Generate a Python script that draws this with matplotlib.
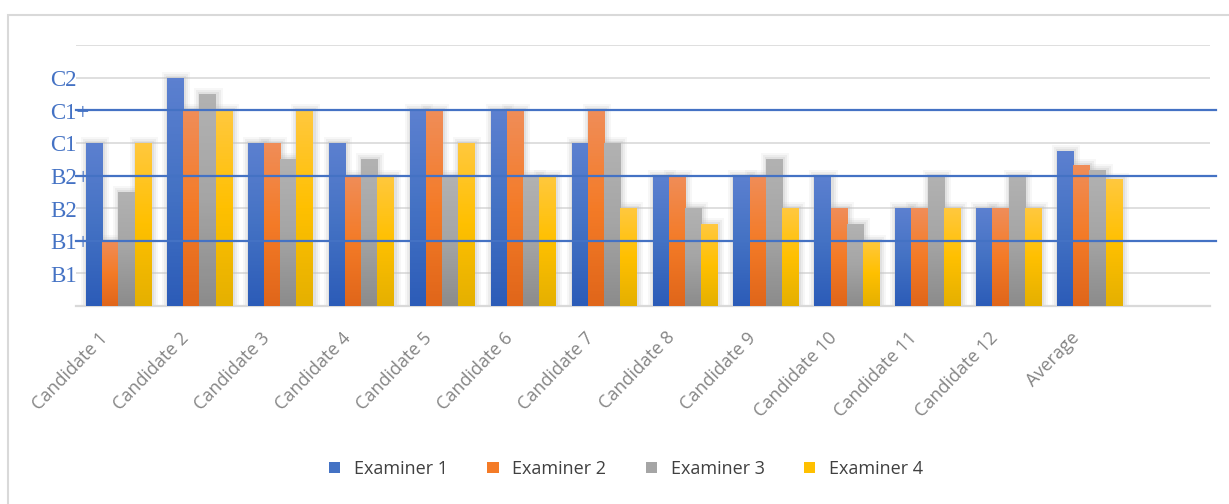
import matplotlib as mpl
import matplotlib.pyplot as plt
from matplotlib import transforms
from matplotlib.colors import LinearSegmentedColormap
from matplotlib.patches import Patch, Rectangle
import numpy as np

mpl.rcParams['font.family'] = 'Open Sans'

categories = ['Candidate 1', 'Candidate 2', 'Candidate 3', 'Candidate 4',
              'Candidate 5', 'Candidate 6', 'Candidate 7', 'Candidate 8',
              'Candidate 9', 'Candidate 10', 'Candidate 11', 'Candidate 12',
              'Average']
examiners = ['Examiner 1', 'Examiner 2', 'Examiner 3', 'Examiner 4']

# scores on the B1 .. C2 scale (B1 = 1, B1+ = 2, ... C2 = 7)
examiner1 = [5, 7, 5, 5, 6, 6, 5, 4, 4, 4, 3, 3, 4.75]
examiner2 = [2, 6, 5, 4, 6, 6, 6, 4, 4, 3, 3, 3, 4.33]
examiner3 = [3.5, 6.5, 4.5, 4.5, 4, 4, 5, 3, 4.5, 2.5, 4, 4, 4.17]
examiner4 = [5, 6, 6, 4, 5, 4, 3, 2.5, 3, 2, 3, 3, 3.88]

level_values = [1, 2, 3, 4, 5, 6, 7]
level_labels = ['B1', 'B1+', 'B2', 'B2+', 'C1', 'C1+', 'C2']
marked_levels = [2, 4, 6]

# light / base / dark stops for the gradient fills
fills = [('#5c80d0', '#4472c4', '#2c5cb8'),
         ('#f08d58', '#f47b27', '#e0661a'),
         ('#b2b2b2', '#a5a5a5', '#8c8c8c'),
         ('#ffc83e', '#ffc000', '#e5b000')]

W, H = 1229, 504
fig = plt.figure(figsize=(W / 100, H / 100), dpi=100)
ax = fig.add_axes((76 / W, 1 - 306 / H, (1210 - 76) / W, (306 - 45) / H))

xmin, xmax = -0.525, 13.49
ymin, ymax = 0, 8
px_x = (xmax - xmin) / (1210 - 76)
px_y = (ymax - ymin) / (306 - 45)

for s in ['top', 'right', 'left']:
    ax.spines[s].set_visible(False)
ax.spines['bottom'].set_color('#d9d9d9')
ax.spines['bottom'].set_linewidth(1.6)
ax.set_yticks(range(0, 9))
ax.set_yticklabels([])
ax.set_xticks([])
ax.tick_params(length=0)
ax.grid(True, axis='y', color='#d9d9d9', linewidth=1.2, zorder=0)
ax.set_axisbelow(True)

x = np.arange(len(categories))
width = 0.2
grad = np.linspace(0, 1, 64).reshape(-1, 1)
series = [examiner1, examiner2, examiner3, examiner4]

for k, vals in enumerate(series):
    cmap = LinearSegmentedColormap.from_list('f%d' % k, [fills[k][2], fills[k][1], fills[k][0]])
    for i, v in enumerate(vals):
        x0 = x[i] + (k - 1.5) * width - width / 2
        # soft shadow behind each bar
        for grow, a in [(6, 0.12), (4, 0.18), (2, 0.25)]:
            ax.add_patch(Rectangle((x0 - grow * px_x + px_x, 0), width + 2 * grow * px_x,
                                   v + grow * px_y, facecolor='#bfbfbf', edgecolor='none',
                                   alpha=a, zorder=1))
        bar = ax.bar(x0, v, width, align='edge', color='none', edgecolor='none', zorder=3)[0]
        im = ax.imshow(grad, extent=(x0, x0 + width, 0, v), origin='lower',
                       cmap=cmap, aspect='auto', zorder=3)
        im.set_clip_path(bar)

# reference lines through the "+" levels
for lv in marked_levels:
    ax.axhline(lv, xmin=0, xmax=(1216 - 76) / (1210 - 76), color='#4472c4',
               linewidth=1.6, zorder=5, clip_on=False)

ax.set_xlim(xmin, xmax)
ax.set_ylim(ymin, ymax)

# level names on the left
ytrans = transforms.blended_transform_factory(fig.transFigure, ax.transData)
for v, lab in zip(level_values, level_labels):
    ax.text(50 / W, v - 8.5 * px_y, lab, transform=ytrans, ha='left', va='baseline',
            family='Liberation Serif', fontsize=16.5, color='#4472c4', zorder=6)

# rotated category names
offset = transforms.ScaledTranslation(-0.13, -0.29, fig.dpi_scale_trans)
xtrans = transforms.blended_transform_factory(ax.transData, ax.transAxes) + offset
for i, lab in enumerate(categories):
    ax.text(x[i], 0, lab, transform=xtrans, rotation=46, rotation_mode='anchor',
            ha='right', va='center', fontsize=13, color='#858585', clip_on=False)

handles = [Patch(facecolor=fills[k][1], edgecolor='none', label=examiners[k]) for k in range(4)]
fig.legend(handles=handles, loc='center', bbox_to_anchor=(626 / W, 1 - 469 / H), ncol=4,
           frameon=False, fontsize=13, labelcolor='#404040', handlelength=0.62,
           handleheight=0.62, handletextpad=0.75, columnspacing=2.2)

# chart frame
fig.patches.append(Rectangle((8 / W, -0.1), 1.2, 1 - 15 / H + 0.1, transform=fig.transFigure,
                             facecolor='none', edgecolor='#d9d9d9', linewidth=1.5))

plt.savefig('out.png', dpi=100)
